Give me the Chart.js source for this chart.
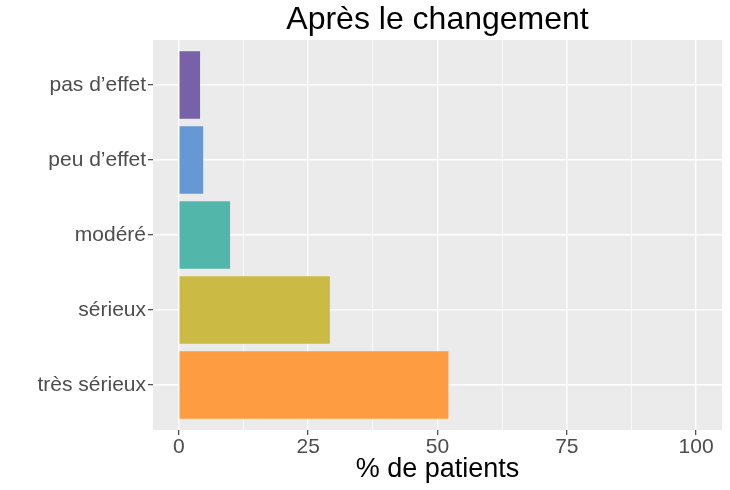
<!DOCTYPE html>
<html>
<head>
<meta charset="utf-8">
<script src="https://cdn.jsdelivr.net/npm/chart.js@4"></script>
<style>
  body { margin: 0; background: #fff; }
  #wrap { width: 730px; height: 490px; }
</style>
</head>
<body>
<div id="wrap"><canvas id="chart"></canvas></div>
<script>
// bottom to top, like the ggplot original
const categories = ['très sérieux', 'sérieux', 'modéré', 'peu d’effet', 'pas d’effet'];
const positions = [1, 2, 3, 4, 5];
const percentages = [52.1, 29.2, 9.9, 4.7, 4.1];
const barColors = ['#fe9c41', '#cbbb44', '#52b6aa', '#6699d4', '#7761a8'];
const xTickLabels = [0, 25, 50, 75, 100];
const xGridValues = [0, 12.5, 25, 37.5, 50, 62.5, 75, 87.5, 100];

const font = '"Liberation Sans", Arial, sans-serif';

// grey panel behind the grid
const panelBackground = {
  id: 'panelBackground',
  beforeDraw(chart) {
    const { ctx, chartArea: a } = chart;
    ctx.save();
    ctx.fillStyle = '#ebebeb';
    ctx.fillRect(a.left, a.top, a.right - a.left, a.bottom - a.top);
    ctx.restore();
  }
};

const isMajor = v => xTickLabels.includes(v);

new Chart(document.getElementById('chart'), {
  type: 'bar',
  data: {
    datasets: [{
      data: positions.map((p, i) => ({ x: percentages[i], y: p })),
      backgroundColor: barColors,
      borderWidth: 0,
      barPercentage: 0.9,
      categoryPercentage: 1
    }]
  },
  options: {
    indexAxis: 'y',
    responsive: true,
    maintainAspectRatio: false,
    animation: false,
    layout: { padding: { left: 0, right: 8, top: 0, bottom: 0 } },
    plugins: {
      legend: { display: false },
      tooltip: { enabled: false },
      title: {
        display: true,
        text: 'Après le changement',
        fullSize: false,
        color: '#000',
        font: { family: font, size: 32, weight: 'normal' },
        padding: { top: 1, bottom: 0.6 }
      }
    },
    scales: {
      x: {
        type: 'linear',
        min: -5,
        max: 105,
        afterBuildTicks: s => { s.ticks = xGridValues.map(v => ({ value: v })); },
        afterFit: s => { s.height = 60; },
        border: { display: false },
        grid: {
          color: '#ffffff',
          lineWidth: c => isMajor(c.tick.value) ? 1.4 : 0.7,
          tickLength: 5,
          tickColor: c => isMajor(c.tick.value) ? '#333333' : 'rgba(0,0,0,0)',
          tickWidth: 1.1
        },
        ticks: {
          autoSkip: false,
          maxRotation: 0,
          padding: 0,
          color: '#4d4d4d',
          font: { family: font, size: 21 },
          callback: v => isMajor(v) ? String(v) : ''
        },
        title: {
          display: true,
          text: '% de patients',
          color: '#000',
          font: { family: font, size: 27 },
          padding: { top: 0, bottom: 4 }
        }
      },
      y: {
        type: 'linear',
        min: 0.4,
        max: 5.6,
        offset: false,
        afterBuildTicks: s => { s.ticks = positions.map(v => ({ value: v })); },
        afterFit: s => { s.width = 153; },
        border: { display: false },
        grid: {
          offset: false,
          color: '#ffffff',
          lineWidth: 1.4,
          tickLength: 5,
          tickColor: '#333333',
          tickWidth: 1.1
        },
        ticks: {
          autoSkip: false,
          padding: 2,
          color: '#4d4d4d',
          font: { family: font, size: 21 },
          callback: v => categories[v - 1]
        }
      }
    }
  },
  plugins: [panelBackground]
});
</script>
</body>
</html>
